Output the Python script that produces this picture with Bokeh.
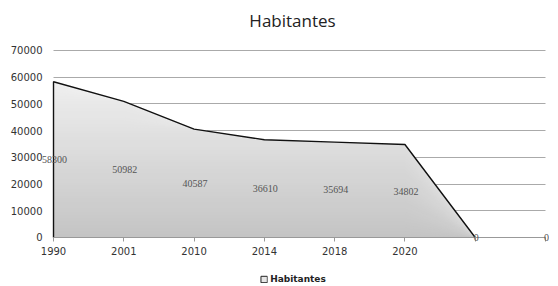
import numpy as np
from bokeh.plotting import figure
from bokeh.models import Range1d, FixedTicker, Legend, LegendItem, LabelSet, Label, ColumnDataSource
from bokeh.embed import file_html
from bokeh.resources import INLINE

# ---- data ----
years = ["1990", "2001", "2010", "2014", "2018", "2020", "", ""]
habitantes = [58300, 50982, 40587, 36610, 35694, 34802, 0, 0]
y_ticks = [0, 10000, 20000, 30000, 40000, 50000, 60000, 70000]
title_text = "Habitantes"
series_name = "Habitantes"

x = np.arange(len(years))
v = np.array(habitantes, dtype=float)
last = len(years) - 1

FW, FH = 513, 284
x0, x1 = -0.242, last + 0.057
y0, y1 = -17594, 88716

# frame covers the whole canvas height: title on top, legend at the bottom
p = figure(frame_width=FW, frame_height=FH, output_backend="svg", toolbar_location=None,
           x_range=Range1d(x0, x1), y_range=Range1d(y0, y1),
           min_border_left=36, min_border_right=0, min_border_top=0, min_border_bottom=0)
p.outline_line_color = None
p.background_fill_color = "white"
p.border_fill_color = "white"
p.title.visible = False

# title (centred, 20px below the top edge)
p.add_layout(Label(x=x0 + (x1 - x0) * (256 / FW), y=y1 - (y1 - y0) * (20 / FH),
                   text=title_text, text_align="center", text_baseline="middle",
                   text_font="Open Sans", text_font_size="17px", text_color="#222222"))

# grid
p.xgrid.grid_line_color = None
p.ygrid.ticker = FixedTicker(ticks=y_ticks)
p.ygrid.grid_line_color = "#aaaaaa"
p.ygrid.grid_line_width = 1
p.ygrid.cross_bounds = (0, last)

# gradient area (stacked bands, darker toward the bottom)
n = 48
top = v.max()
edges = np.linspace(0, top, n + 1)
c_bot = np.array([0xc4, 0xc4, 0xc4])
c_top = np.array([0xef, 0xef, 0xef])
for k in range(n - 1, -1, -1):
    t = (k + 0.5) / n
    c = (c_bot + (c_top - c_bot) * t).round().astype(int)
    col = "#%02x%02x%02x" % tuple(c)
    p.varea(x=x, y1=np.zeros_like(v), y2=np.minimum(v, edges[k + 1]), fill_color=col)

# outline of the area (left edge + top edge down to the first zero)
nz = np.nonzero(v)[0]
end = min(nz[-1] + 2, len(v))
p.line(x=np.concatenate([[x[0]], x[:end]]), y=np.concatenate([[0.0], v[:end]]),
       line_color="#111111", line_width=1.4)

# data labels
src = ColumnDataSource(dict(x=x, y=v / 2, t=[str(h) for h in habitantes]))
labels = LabelSet(x="x", y="y", text="t", source=src,
                  text_font="DejaVu Sans", text_font_size="10px", text_color="#555555",
                  text_align="center", text_baseline="middle", x_offset=1)
p.add_layout(labels)

# y axis
p.yaxis.ticker = FixedTicker(ticks=y_ticks)
p.yaxis.axis_line_color = None
p.yaxis.major_tick_line_color = None
p.yaxis.major_tick_out = 0
p.yaxis.major_tick_in = 0
p.yaxis.minor_tick_line_color = None
p.yaxis.major_label_text_font = "DejaVu Sans"
p.yaxis.major_label_text_font_size = "10px"
p.yaxis.major_label_text_color = "#333333"
p.yaxis.major_label_standoff = -6

# x axis drawn at the zero line
p.xaxis.fixed_location = 0
p.xaxis.ticker = FixedTicker(ticks=list(x))
p.xaxis.bounds = (0, last)
p.xaxis.major_label_overrides = {int(i): years[i] for i in x}
p.xaxis.axis_line_color = "#999999"
p.xaxis.major_tick_line_color = "#999999"
p.xaxis.major_tick_in = 0
p.xaxis.major_tick_out = 4
p.xaxis.minor_tick_line_color = None
p.xaxis.major_label_text_font = "DejaVu Sans"
p.xaxis.major_label_text_font_size = "10px"
p.xaxis.major_label_text_color = "#333333"
p.xaxis.major_label_standoff = 6

# legend (zero-size rect at the area's corner supplies the swatch style)
lr = p.rect(x=x[:1], y=np.zeros(1), width=0, height=0,
            fill_color="#e6e6e6", line_color="#222222", line_width=1)
legend = Legend(items=[LegendItem(label=series_name, renderers=[lr])],
                location="bottom_center", orientation="horizontal",
                border_line_color=None, background_fill_alpha=0,
                label_text_font="DejaVu Sans", label_text_font_size="9px",
                label_text_color="#222222", label_text_font_style="bold",
                glyph_width=8, glyph_height=8, label_standoff=3, label_height=10,
                padding=1, margin=0, spacing=0)
p.add_layout(legend)

open("out.html", "w").write(file_html(p, INLINE))
